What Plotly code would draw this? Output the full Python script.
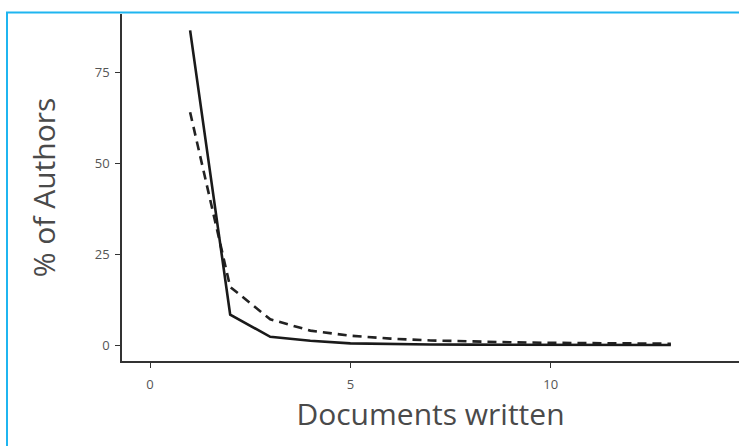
import plotly.graph_objects as go

docs = [1, 2, 3, 4, 5, 6, 7, 8, 9, 10, 11, 12, 13]
observed = [86.5, 8.4, 2.3, 1.2, 0.5, 0.3, 0.2, 0.15, 0.1, 0.1, 0.1, 0.05, 0.05]
expected = [64.0, 16.0, 7.1, 4.0, 2.6, 1.8, 1.3, 1.0, 0.8, 0.65, 0.5, 0.45, 0.4]

x_ticks = [0, 5, 10]
y_ticks = [0, 25, 50, 75]

fig = go.Figure()
fig.add_trace(go.Scatter(x=docs, y=expected, mode="lines",
                         line=dict(color="#222222", width=2.6, dash="9px,6px"),
                         showlegend=False))
fig.add_trace(go.Scatter(x=docs, y=observed, mode="lines",
                         line=dict(color="#1a1a1a", width=2.6),
                         showlegend=False))

axis_common = dict(showgrid=False, zeroline=False, showline=True,
                   linecolor="#333333", linewidth=1.6,
                   ticks="outside", ticklen=5, tickcolor="#333333", tickwidth=1.2,
                   tickfont=dict(family="Open Sans", size=13, color="#555555"))

fig.update_xaxes(range=[-0.7, 14.7], tickvals=x_ticks, ticktext=[str(v) for v in x_ticks],
                 ticklabelstandoff=6,
                 title=dict(text="Documents written", standoff=11,
                            font=dict(family="Open Sans", size=30, color="#4a4a4a")),
                 **axis_common)
fig.update_yaxes(range=[-4.35, 91], tickvals=y_ticks, ticktext=[str(v) for v in y_ticks],
                 ticklabelstandoff=3,
                 title=dict(text="% of Authors", standoff=30,
                            font=dict(family="Open Sans", size=30, color="#4a4a4a")),
                 **axis_common)

fig.add_shape(type="rect", xref="paper", yref="paper",
              x0=(7 - 122) / 617, x1=1.05, y0=-0.3, y1=(361 - 12.5) / 347,
              line=dict(color="#1fb5f0", width=2), fillcolor="rgba(0,0,0,0)", layer="below")

fig.update_layout(width=739, height=446,
                  margin=dict(l=122, r=0, t=14, b=85),
                  plot_bgcolor="white", paper_bgcolor="white",
                  font=dict(family="Open Sans"))

fig.write_html("out.html", config={"displayModeBar": False},
               post_script="document.body.style.margin='0';")
